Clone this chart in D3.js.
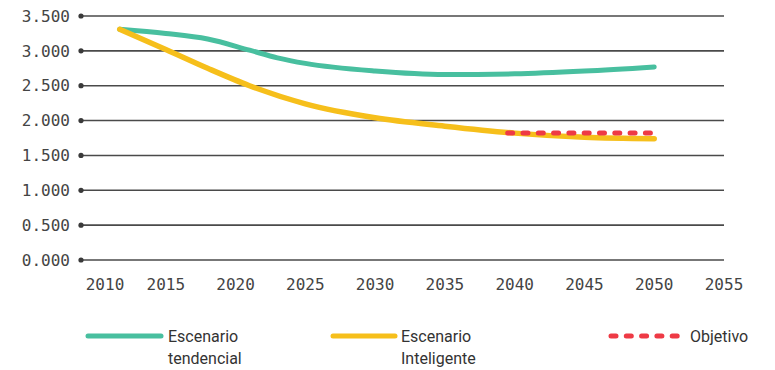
<!DOCTYPE html>
<html><head><meta charset="utf-8">
<script src="https://cdn.jsdelivr.net/npm/d3@7"></script>
<style>
body{margin:0;background:#fff;}
svg{display:block;}
</style></head>
<body>
<svg id="chart" width="775" height="370"></svg>
<script>
// Data
const years      = [2011.7, 2015, 2018, 2021, 2023, 2025, 2030, 2035, 2040, 2045, 2050];
const tendencial = [3.31, 3.25, 3.17, 3.01, 2.90, 2.82, 2.71, 2.66, 2.67, 2.71, 2.77];
const yearsInt   = [2011.7, 2015, 2018, 2021, 2025, 2030, 2035, 2040, 2045, 2050];
const inteligente= [3.31, 3.02, 2.75, 2.50, 2.24, 2.04, 1.92, 1.82, 1.76, 1.74];
const objYears   = [2039.5, 2050];
const objetivo   = [1.82, 1.82];
const xTicks     = [2010, 2015, 2020, 2025, 2030, 2035, 2040, 2045, 2050, 2055];
const yTicks     = [0, 0.5, 1, 1.5, 2, 2.5, 3, 3.5];
const seriesNames= [["Escenario","tendencial"],["Escenario","Inteligente"],["Objetivo"]];

const svg = d3.select("#chart");
const x = d3.scaleLinear().domain([2010, 2055]).range([96, 724]);
const y = d3.scaleLinear().domain([0, 3.5]).range([260, 16]);
const gridX0 = 81;

// grid lines with dots
const gy = svg.append("g");
yTicks.forEach(v => {
  gy.append("line").attr("x1", gridX0).attr("x2", x(2055))
    .attr("y1", y(v)).attr("y2", y(v))
    .attr("stroke", "#4a4a4a").attr("stroke-width", 1.6);
  gy.append("circle").attr("cx", gridX0).attr("cy", y(v)).attr("r", 2.6).attr("fill", "#3a3a3a");
  gy.append("text").attr("x", 70).attr("y", y(v)).attr("dy", "0.36em")
    .attr("text-anchor", "end")
    .attr("font-family", "DejaVu Sans Mono").attr("font-size", 16)
    .attr("fill", "#444").text(d3.format(".3f")(v));
});

// x labels
svg.append("g").selectAll("text").data(xTicks).join("text")
  .attr("x", (d, i) => x(d) + (i === 0 ? 9 : 0))
  .attr("y", 290)
  .attr("text-anchor", "middle")
  .attr("font-family", "DejaVu Sans Mono").attr("font-size", 16)
  .attr("fill", "#444").text(d => d);

const line = d3.line().curve(d3.curveMonotoneX).x(d => x(d[0])).y(d => y(d[1]));
const teal = "#48bf9f", yellow = "#f6bf1b", red = "#ee3a45";

svg.append("path").datum(years.map((d, i) => [d, tendencial[i]]))
  .attr("d", line).attr("fill", "none").attr("stroke", teal)
  .attr("stroke-width", 5).attr("stroke-linecap", "round");
svg.append("path").datum(yearsInt.map((d, i) => [d, inteligente[i]]))
  .attr("d", line).attr("fill", "none").attr("stroke", yellow)
  .attr("stroke-width", 5.5).attr("stroke-linecap", "round");
svg.append("path").datum(objYears.map((d, i) => [d, objetivo[i]]))
  .attr("d", line).attr("fill", "none").attr("stroke", red)
  .attr("stroke-width", 5).attr("stroke-linecap", "round")
  .attr("stroke-dasharray", "5 10.3");

// legend
const leg = svg.append("g");
const legItems = [
  {color: teal, x1: 88, x2: 161, tx: 168, dash: null},
  {color: yellow, x1: 333, x2: 395, tx: 401, dash: null},
  {color: red, x1: 611, x2: 684, tx: 690, dash: "5 10.3"}
];
legItems.forEach((it, i) => {
  leg.append("line").attr("x1", it.x1).attr("x2", it.x2).attr("y1", 336).attr("y2", 336)
    .attr("stroke", it.color).attr("stroke-width", 5).attr("stroke-linecap", "round")
    .attr("stroke-dasharray", it.dash);
  const t = leg.append("text").attr("x", it.tx).attr("y", 342)
    .attr("font-family", "Roboto").attr("font-size", 16).attr("fill", "#333");
  seriesNames[i].forEach((s, j) => {
    t.append("tspan").attr("x", it.tx).attr("dy", j === 0 ? 0 : 22).text(s);
  });
});
</script>
</body></html>
